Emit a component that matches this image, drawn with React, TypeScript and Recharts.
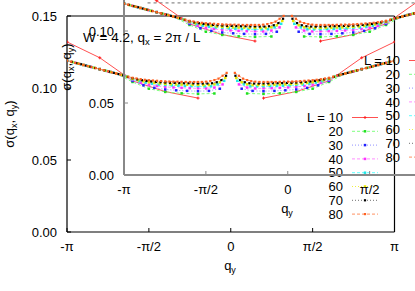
import React from 'react';
import { LineChart, Line, XAxis, YAxis, ReferenceLine, Legend } from 'recharts';

// sigma(q_x = 2pi/L, q_y), left half only: q_y = -pi + 2pi*k/L, k = 0 .. L/2-1
// (the curves are symmetric in q_y, q_y = 0 is not sampled)
const sizes = [10, 20, 30, 40, 50, 60, 70, 80];
const sigmaL10 = [0.132, 0.121, 0.105, 0.0975, 0.093];
const sigmaL20 = [0.119, 0.116, 0.1131, 0.1101, 0.1042, 0.0995, 0.0973, 0.0963, 0.0959, 0.0962];
const sigmaL30 = [0.119, 0.117, 0.115, 0.1131, 0.1111, 0.1091, 0.1049, 0.1019, 0.1001, 0.099, 0.0984, 0.098, 0.0978, 0.098, 0.0995];
const sigmaL40 = [0.119, 0.1175, 0.116, 0.1145, 0.1131, 0.1116, 0.1101, 0.1087, 0.1056, 0.1036, 0.1023, 0.1014, 0.1008, 0.1004, 0.1001, 0.0999, 0.0998, 0.0997, 0.1003, 0.1025];
const sigmaL50 = [0.119, 0.1178, 0.1166, 0.1154, 0.1142, 0.1131, 0.1119, 0.1107, 0.1095, 0.1082, 0.1061, 0.1047, 0.1037, 0.103, 0.1024, 0.1021, 0.1018, 0.1016, 0.1014, 0.1013, 0.1012, 0.1011, 0.1012, 0.1025, 0.105];
const sigmaL60 = [0.119, 0.118, 0.117, 0.116, 0.115, 0.114, 0.1131, 0.1121, 0.1111, 0.1101, 0.1091, 0.1078, 0.1064, 0.1054, 0.1046, 0.104, 0.1036, 0.1032, 0.1029, 0.1027, 0.1025, 0.1024, 0.1023, 0.1022, 0.1022, 0.1021, 0.1021, 0.1026, 0.104, 0.107];
const sigmaL70 = [0.119, 0.1182, 0.1173, 0.1165, 0.1156, 0.1148, 0.1139, 0.1131, 0.1122, 0.1114, 0.1105, 0.1097, 0.1088, 0.1077, 0.1068, 0.106, 0.1054, 0.1049, 0.1045, 0.1042, 0.104, 0.1038, 0.1036, 0.1035, 0.1034, 0.1033, 0.1033, 0.1032, 0.1032, 0.1031, 0.1031, 0.1033, 0.104, 0.1055, 0.1085];
const sigmaL80 = [0.119, 0.1183, 0.1175, 0.1168, 0.116, 0.1153, 0.1145, 0.1138, 0.1131, 0.1123, 0.1116, 0.1108, 0.1101, 0.1093, 0.1087, 0.1078, 0.1071, 0.1066, 0.1061, 0.1057, 0.1054, 0.1052, 0.105, 0.1048, 0.1046, 0.1045, 0.1044, 0.1044, 0.1043, 0.1042, 0.1042, 0.1042, 0.1042, 0.1042, 0.1044, 0.1048, 0.1055, 0.1065, 0.1085, 0.1105];
const halves = [sigmaL10, sigmaL20, sigmaL30, sigmaL40, sigmaL50, sigmaL60, sigmaL70, sigmaL80];

const xTicks = [-Math.PI, -Math.PI / 2, 0, Math.PI / 2, Math.PI];
const xTickLabels = ['-π', '-π/2', '0', 'π/2', 'π'];
const yTicks = [0, 0.05, 0.1, 0.15];
const yTickLabels = ['0.00', '0.05', '0.10', '0.15'];

const FONT = '"Liberation Sans", Arial, Helvetica, sans-serif';

type Style = { line: string; mark: string; dash?: string; shape: 'plus' | 'square'; size: number };
const styles: Style[] = [
  { line: '#ff5050', mark: '#ff2020', shape: 'plus', size: 3 },
  { line: '#80ff80', mark: '#20e020', dash: '3 2', shape: 'square', size: 2.5 },
  { line: '#9090ff', mark: '#2020ff', dash: '1 2', shape: 'square', size: 2.5 },
  { line: '#ff90ff', mark: '#ff30ff', dash: '3 2', shape: 'square', size: 2.5 },
  { line: '#60ffff', mark: '#20e8e8', dash: '3 2', shape: 'square', size: 2.5 },
  { line: '#f0f040', mark: '#e8e800', dash: '1 2', shape: 'square', size: 2.5 },
  { line: '#707070', mark: '#000000', dash: '1 2', shape: 'square', size: 2.2 },
  { line: '#ff9060', mark: '#ff6020', dash: '3 2', shape: 'square', size: 2.2 },
];

function buildSeries(L: number, half: number[]) {
  const pts: { q: number; s: number | null }[] = [];
  half.forEach((s, k) => pts.push({ q: -Math.PI + (2 * Math.PI * k) / L, s }));
  pts.push({ q: 0, s: null });
  for (let j = 1; j <= L / 2; j++) pts.push({ q: (2 * Math.PI * j) / L, s: half[L / 2 - j] });
  return pts;
}

const series = sizes.map((L, i) => ({ L, data: buildSeries(L, halves[i]), style: styles[i] }));

function marker(st: Style, cx: number, cy: number, key: string) {
  if (st.shape === 'plus') {
    const h = st.size / 2;
    return <path key={key} d={`M${cx - h},${cy}h${st.size}M${cx},${cy - h}v${st.size}`} stroke={st.mark} strokeWidth={1} />;
  }
  const h = st.size / 2;
  return <rect key={key} x={cx - h} y={cy - h} width={st.size} height={st.size} fill={st.mark} />;
}

const makeDot = (st: Style, id: string) => (p: any) => {
  const key = `${id}-${p.index}`;
  if (p.cx == null || p.cy == null || p.value == null || isNaN(p.cy)) return <g key={key} />;
  return marker(st, p.cx, p.cy, key);
};

function LegendBox() {
  return (
    <svg width={140} height={130} style={{ overflow: 'visible' }}>
      {series.map((s, i) => {
        const y = 17.5 + 13.8 * i;
        return (
          <g key={s.L}>
            <text x={63} y={y + 4.7} textAnchor="end" fontFamily={FONT} fontSize={13} fill="#000">
              {i === 0 ? `L = ${s.L}` : `${s.L}`}
            </text>
            <line x1={72} x2={98} y1={y} y2={y} stroke={s.style.line} strokeWidth={1} strokeDasharray={s.style.dash} />
            {marker(s.style, 85, y, 'm')}
          </g>
        );
      })}
    </svg>
  );
}

function Panel({ axisColor, axisWidth, inset }: { axisColor: string; axisWidth: number; inset: boolean }) {
  const xTick = (p: any) => {
    const i = xTicks.findIndex((t) => Math.abs(t - p.payload.value) < 1e-6);
    return (
      <g>
        <line x1={p.x} x2={p.x} y1={p.y} y2={p.y - 4} stroke={axisColor} strokeWidth={1} />
        <text x={p.x} y={p.y + 19} textAnchor="middle" fontFamily={FONT} fontSize={13} fill="#000">
          {xTickLabels[i]}
        </text>
      </g>
    );
  };
  const yTick = (p: any) => {
    const i = yTicks.findIndex((t) => Math.abs(t - p.payload.value) < 1e-9);
    return (
      <g>
        <line x1={p.x} x2={p.x + 4} y1={p.y} y2={p.y} stroke={axisColor} strokeWidth={1} />
        <text x={p.x - 10} y={p.y + 4.7} textAnchor="end" fontFamily={FONT} fontSize={13} fill="#000">
          {yTickLabels[i]}
        </text>
      </g>
    );
  };
  return (
    <LineChart width={415} height={291} margin={{ top: 16, right: 20.5, bottom: 0, left: 0 }}>
      <XAxis
        type="number"
        dataKey="q"
        domain={[-Math.PI, Math.PI]}
        ticks={xTicks}
        interval={0}
        allowDataOverflow
        height={59}
        tickSize={0}
        tickMargin={0}
        tickLine={false}
        axisLine={{ stroke: axisColor, strokeWidth: axisWidth }}
        tick={xTick}
      />
      <YAxis
        type="number"
        domain={[0, 0.15]}
        ticks={yTicks}
        interval={0}
        allowDataOverflow
        width={67}
        tickSize={0}
        tickMargin={0}
        tickLine={false}
        axisLine={{ stroke: axisColor, strokeWidth: axisWidth }}
        tick={yTick}
      />
      <ReferenceLine y={0.15} stroke={axisColor} strokeWidth={axisWidth} ifOverflow="visible" />
      <ReferenceLine x={Math.PI} stroke={axisColor} strokeWidth={axisWidth} ifOverflow="visible" />
      {inset && (
        <ReferenceLine
          segment={[{ x: -2.69, y: 0.1195 }, { x: Math.PI, y: 0.1195 }]}
          stroke="#707070"
          strokeWidth={1}
          strokeDasharray="3 3"
          ifOverflow="visible"
        />
      )}
      {series.map((s) => (
        <Line
          key={s.L}
          data={s.data}
          dataKey="s"
          type="linear"
          stroke={s.style.line}
          strokeWidth={1}
          strokeDasharray={s.style.dash}
          connectNulls={false}
          dot={makeDot(s.style, `${inset ? 'i' : 'm'}${s.L}`)}
          activeDot={false}
          isAnimationActive={false}
        />
      ))}
      <Legend
        layout="vertical"
        align="center"
        verticalAlign="middle"
        wrapperStyle={{ left: 280, top: 100, width: 140, height: 130 }}
        content={() => <LegendBox />}
      />
    </LineChart>
  );
}

function Titles({ dx, dy, title }: { dx: number; dy: number; title: boolean }) {
  return (
    <g transform={`translate(${dx},${dy})`} fontFamily={FONT} fontSize={13} fill="#000">
      {title && (
        <text x={83} y={41.5} fontSize={13.5}>
          W = 4.2, q<tspan dy={3} fontSize={9.5}>x</tspan>
          <tspan dy={-3}> = 2π / L</tspan>
        </text>
      )}
      <text transform="translate(14,124) rotate(-90)" textAnchor="middle">
        σ(q<tspan dy={3} fontSize={9}>x</tspan>
        <tspan dy={-3}>, q</tspan>
        <tspan dy={3} fontSize={9}>y</tspan>
        <tspan dy={-3}>)</tspan>
      </text>
      <text x={230} y={269.5} textAnchor="middle">
        q<tspan dy={3} fontSize={9}>y</tspan>
      </text>
    </g>
  );
}

export default function App() {
  return (
    <div style={{ position: 'fixed', left: 0, top: 0, width: 415, height: 291, overflow: 'hidden', background: '#fff' }}>
      <div style={{ position: 'absolute', left: 0, top: 0 }}>
        <Panel axisColor="#000" axisWidth={1.2} inset={false} />
      </div>
      <div style={{ position: 'absolute', left: 57, top: -57 }}>
        <Panel axisColor="#888" axisWidth={2} inset={true} />
      </div>
      <svg width={415} height={291} style={{ position: 'absolute', left: 0, top: 0, pointerEvents: 'none' }}>
        <Titles dx={0} dy={0} title={true} />
        <Titles dx={57} dy={-57} title={false} />
      </svg>
    </div>
  );
}
